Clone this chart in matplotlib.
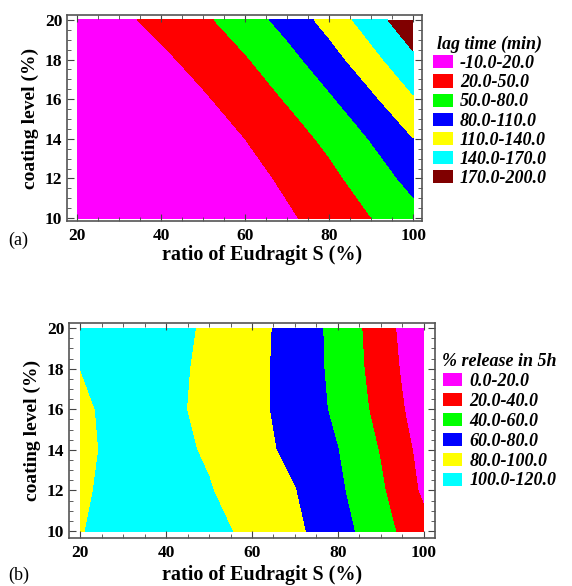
import matplotlib
matplotlib.use("Agg")
import matplotlib.pyplot as plt
from matplotlib.patches import Patch
from matplotlib.ticker import MultipleLocator

plt.rcParams["font.family"] = ["Liberation Serif", "DejaVu Serif"]

# grid
ratio = [20, 30, 40, 50, 60, 70, 80, 90, 100]
coating = [10, 12, 14, 16, 18, 20]

# (a) lag time, rows = coating level, cols = ratio
lag_time = [
    [-60, -46, -32, -17, -1, 15.5, 32.5, 49.7, 69.5],
    [-46, -34, -21, -7, 8.9, 25.6, 42.7, 64.2, 89.5],
    [-35, -23, -10, 4, 20, 37.1, 56.3, 81.7, 109.5],
    [-24, -12, 1.2, 16.4, 33.9, 52.1, 75.7, 103.9, 137],
    [-9, 0, 14, 30.6, 47.4, 69.8, 97.3, 130, 164],
    [0, 13, 28.7, 44.6, 65.3, 90.5, 120.9, 155.2, 192.4],
]
lag_levels = [-10, 20, 50, 80, 110, 140, 170, 200]
lag_labels = ["-10.0-20.0", "20.0-50.0", "50.0-80.0", "80.0-110.0",
              "110.0-140.0", "140.0-170.0", "170.0-200.0"]
lag_colors = ["#ff00ff", "#ff0000", "#00ff00", "#0000ff", "#ffff00", "#00ffff", "#800000"]

# (b) % release in 5h
release = [
    [99.2, 106, 108, 105.4, 95.4, 83.8, 67.8, 47.3, 26],
    [97.8, 105, 106, 101, 90.7, 80.4, 63.4, 42.6, 16.5],
    [96.2, 105, 105, 98, 86.7, 74.8, 60.2, 38.6, 13.2],
    [97.3, 105, 104, 95.6, 85.1, 72.5, 55.9, 33.7, 8.6],
    [100, 106, 104.6, 96.2, 85.4, 72.1, 54.2, 30.9, 5.4],
    [104, 108, 106, 97.2, 86.2, 72.3, 53.3, 29.4, 2],
]
rel_levels = [0, 20, 40, 60, 80, 100, 120]
rel_labels = ["0.0-20.0", "20.0-40.0", "40.0-60.0", "60.0-80.0", "80.0-100.0", "100.0-120.0"]
rel_colors = ["#ff00ff", "#ff0000", "#00ff00", "#0000ff", "#ffff00", "#00ffff"]

fig = plt.figure(figsize=(5.72, 5.86), dpi=100)
ax1 = fig.add_axes([67/572, 1-221/586, 355/572, 206/586])
ax2 = fig.add_axes([69/572, 1-538/586, 366/572, 215/586])

ax1.contourf(ratio, coating, lag_time, levels=lag_levels,
             colors=[lag_colors[0]] + lag_colors, extend="min")
ax2.contourf(ratio, coating, release, levels=rel_levels, colors=rel_colors)

ax1.set_xlim(17.6, 102.1)
ax1.set_ylim(9.85, 20.25)
ax2.set_xlim(17.4, 102.6)
ax2.set_ylim(9.66, 20.25)

leg_font = dict(family="Liberation Serif", style="italic", weight="bold", size=13)

for ax, labels, colors, title, anchor, spacing, xlab in [
    (ax1, lag_labels, lag_colors, "lag time (min)", (1.03, 0.90), 0.12, 0.55),
    (ax2, rel_labels, rel_colors, "% release in 5h", (1.02, 0.86), 0.16, 0.527),
]:
    ax.set_xticks([20, 40, 60, 80, 100])
    ax.set_yticks([10, 12, 14, 16, 18, 20])
    ax.xaxis.set_minor_locator(MultipleLocator(5))
    ax.yaxis.set_minor_locator(MultipleLocator(0.5))
    ax.tick_params(which="both", direction="in", top=True, right=True, color="#444")
    ax.tick_params(which="major", length=5, labelsize=12.5)
    ax.tick_params(axis="x", which="major", pad=5)
    ax.tick_params(which="minor", length=3)
    for lab in ax.get_xticklabels() + ax.get_yticklabels():
        lab.set_fontweight("bold")
    for s in ax.spines.values():
        s.set_color("#555")
        s.set_linewidth(1.2)
    ax.set_xlabel("ratio of Eudragit S (%)", fontsize=14.5, fontweight="bold", labelpad=4)
    ax.xaxis.set_label_coords(xlab, -0.115 if ax is ax1 else -0.125)
    ax.set_ylabel("coating level (%)", fontsize=14, fontweight="bold", labelpad=4)
    handles = [Patch(facecolor=c, edgecolor="none", label=l) for c, l in zip(colors, labels)]
    ax.legend(handles=handles, title=title, loc="upper left", bbox_to_anchor=anchor,
              frameon=False, prop=leg_font, title_fontproperties=leg_font,
              borderaxespad=0, borderpad=0, handlelength=1.1, handleheight=0.75,
              handletextpad=0.4, labelspacing=spacing)

fig.text(0.014, 1-240/586, "(a)", fontsize=13, va="center")
fig.text(0.014, 1-575/586, "(b)", fontsize=13, va="center")

fig.savefig("out.png", dpi=100)
